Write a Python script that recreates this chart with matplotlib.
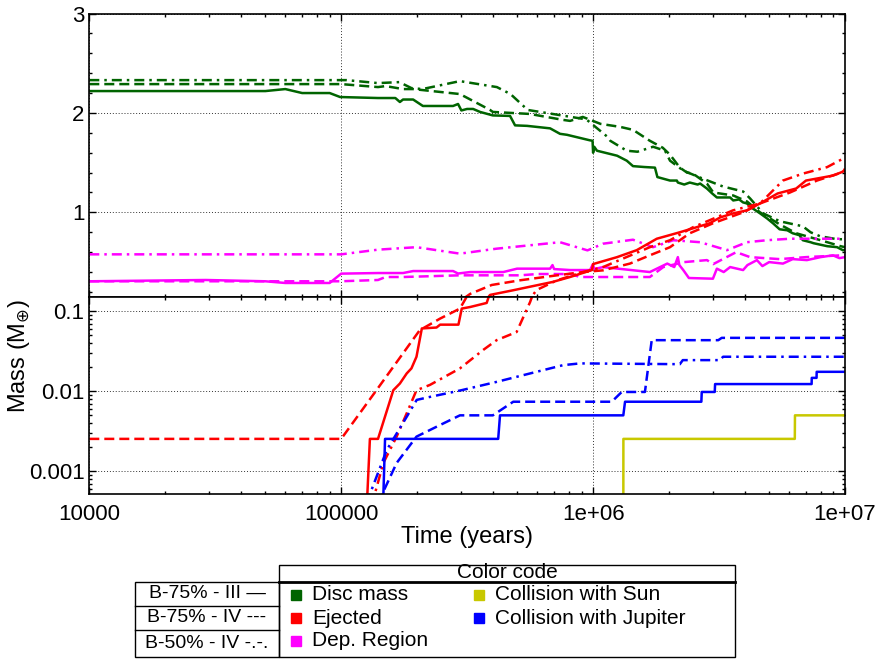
"""Masa del disco, eyectados y colisiones vs tiempo (panel lineal + panel log)."""

import matplotlib
matplotlib.use("Agg")
import matplotlib.pyplot as plt
from matplotlib.lines import Line2D
from matplotlib.patches import Rectangle
from matplotlib.ticker import FixedLocator, FixedFormatter, LogLocator, MultipleLocator, NullFormatter

plt.rcParams["font.family"] = ["Liberation Sans", "DejaVu Sans"]
plt.rcParams["mathtext.fontset"] = "dejavusans"

W, H = 884, 659

# ── Datos (tiempo en años, masa en M_tierra) ───────────────────────────────────

# Disc mass
DISC_III_T = [1e4, 5.0e4, 6.0e4, 7.0e4, 9.0e4, 9.9e4, 1.4e5, 1.64e5, 1.71e5, 1.76e5, 1.93e5,
              2.11e5, 2.78e5, 2.91e5, 3.0e5, 3.16e5, 3.34e5, 3.56e5, 4.0e5, 4.68e5, 4.9e5,
              5.47e5, 6.75e5, 7.39e5, 7.88e5, 9.7e5, 9.95e5, 1.0e6, 1.01e6, 1.036e6, 1.245e6,
              1.36e6, 1.44e6, 1.6e6, 1.76e6, 1.80e6, 2.02e6, 2.15e6, 2.17e6, 2.3e6, 2.42e6,
              2.6e6, 2.66e6, 2.83e6, 2.97e6, 3.1e6, 3.5e6, 3.6e6, 3.8e6, 3.94e6, 4.08e6,
              4.3e6, 4.6e6, 4.9e6, 5.18e6, 5.5e6, 5.9e6, 6.2e6, 6.6e6, 6.8e6, 7.3e6, 7.5e6,
              8.5e6, 9.3e6, 9.8e6, 1e7]
DISC_III_M = [2.22, 2.22, 2.24, 2.20, 2.20, 2.16, 2.15, 2.15, 2.11, 2.135, 2.135,
              2.07, 2.07, 2.09, 2.025, 2.04, 2.04, 2.01, 1.975, 1.97, 1.875,
              1.87, 1.845, 1.79, 1.78, 1.725, 1.72, 1.60, 1.66, 1.62, 1.57,
              1.52, 1.465, 1.456, 1.45, 1.355, 1.32, 1.32, 1.30, 1.28, 1.30,
              1.28, 1.29, 1.24, 1.19, 1.15, 1.15, 1.12, 1.13, 1.10, 1.09,
              1.04, 0.99, 0.94, 0.89, 0.83, 0.82, 0.79, 0.77, 0.72, 0.70, 0.69,
              0.66, 0.65, 0.62, 0.62]

DISC_IV_T = [1e4, 1.0e5, 1.4e5, 1.5e5, 1.76e5, 1.93e5, 2.96e5, 3.9e5, 4.0e5, 5.6e5, 7.6e5,
             8.1e5, 9.1e5, 1.07e6, 1.28e6, 1.44e6, 1.68e6, 1.89e6, 2.02e6, 2.21e6, 2.36e6,
             2.49e6, 2.83e6, 3.0e6, 3.6e6, 4.08e6, 4.6e6, 5.5e6, 6.4e6, 8.0e6, 9.6e6, 1e7]
DISC_IV_M = [2.29, 2.29, 2.26, 2.27, 2.24, 2.24, 2.19, 2.03, 2.01, 1.99, 1.93,
             1.92, 1.96, 1.89, 1.86, 1.83, 1.72, 1.65, 1.58, 1.45, 1.40,
             1.39, 1.29, 1.20, 1.17, 1.11, 1.00, 0.88, 0.79, 0.72, 0.66, 0.65]

DISC_50_T = [1e4, 1.05e5, 1.4e5, 1.7e5, 1.9e5, 2.1e5, 2.96e5, 4.15e5, 4.7e5, 5.5e5, 6.9e5,
             9.4e5, 1.14e6, 1.17e6, 1.36e6, 1.5e6, 1.73e6, 1.93e6, 2.02e6, 2.28e6, 2.66e6,
             3.28e6, 3.94e6, 4.2e6, 4.73e6, 5.52e6, 6.8e6, 7.3e6, 7.96e6, 9.3e6, 1e7]
DISC_50_M = [2.33, 2.33, 2.30, 2.31, 2.25, 2.24, 2.32, 2.26, 2.19, 2.03, 1.99,
             1.935, 1.76, 1.72, 1.62, 1.61, 1.66, 1.62, 1.52, 1.42, 1.35,
             1.26, 1.21, 1.14, 0.99, 0.91, 0.86, 0.80, 0.76, 0.73, 0.73]

# Ejected
EJ_III_T = [1.24e5, 1.30e5, 1.40e5, 1.61e5, 1.71e5, 1.82e5, 1.9e5, 1.99e5, 2.09e5, 2.39e5,
            2.47e5, 2.92e5, 3.01e5, 3.25e5, 3.78e5, 3.9e5, 4.8e5, 6.9e5, 8.1e5, 9.9e5,
            1.0e6, 1.245e6, 1.49e6, 1.79e6, 2.21e6, 2.9e6, 3.2e6, 3.6e6, 4.08e6, 4.6e6,
            5.4e6, 6.4e6, 7.0e6, 8.96e6, 9.6e6, 1e7]
EJ_III_M = [1e-4, 0.00254, 0.00254, 0.0103, 0.0125, 0.0167, 0.0193, 0.027, 0.061, 0.0626,
            0.068, 0.068, 0.108, 0.113, 0.127, 0.17, 0.216, 0.30, 0.35, 0.42,
            0.48, 0.55, 0.62, 0.735, 0.80, 0.89, 0.95, 0.99, 1.02, 1.09,
            1.19, 1.24, 1.32, 1.37, 1.40, 1.42]

EJ_IV_T = [1e4, 1.0e5, 1.38e5, 2.05e5, 2.47e5, 2.96e5, 3.25e5, 3.96e5, 5.13e5, 7.19e5,
           9.12e5, 1.095e6, 1.4e6, 1.68e6, 2.02e6, 2.42e6, 2.99e6, 3.94e6, 4.6e6, 6.05e6,
           7.74e6, 9.82e6, 1e7]
EJ_IV_M = [0.00254, 0.00254, 0.0103, 0.058, 0.081, 0.108, 0.18, 0.27, 0.317, 0.367,
           0.40, 0.417, 0.485, 0.568, 0.65, 0.79, 0.89, 1.0, 1.09, 1.20,
           1.32, 1.405, 1.44]

EJ_50_T = [1.25e5, 1.47e5, 1.66e5, 1.82e5, 1.99e5, 2.25e5, 2.96e5, 3.67e5, 4.14e5, 4.97e5,
           5.62e5, 5.97e5, 7.19e5, 9.12e5, 1.095e6, 1.68e6, 2.02e6, 2.49e6, 3.59e6, 4.6e6,
           5.67e6, 6.81e6, 8.49e6, 9.82e6, 1e7]
EJ_50_M = [2e-4, 0.00127, 0.00271, 0.0053, 0.0103, 0.012, 0.0193, 0.033, 0.0435, 0.055,
           0.13, 0.22, 0.317, 0.40, 0.45, 0.65, 0.72, 0.85, 1.02, 1.09,
           1.32, 1.39, 1.455, 1.54, 1.55]

# Dep. Region
DEP_III_T = [1e4, 2.9e4, 5.0e4, 6.0e4, 9.0e4, 1.0e5, 1.4e5, 1.76e5, 1.93e5, 2.78e5, 2.91e5,
             3.25e5, 4.4e5, 4.99e5, 6.75e5, 6.9e5, 7.0e5, 8.1e5, 9.72e5, 9.99e5, 1.01e6,
             1.095e6, 1.68e6, 1.97e6, 2.1e6, 2.17e6, 2.2e6, 2.28e6, 2.4e6, 2.99e6, 3.1e6,
             3.3e6, 3.5e6, 3.94e6, 4.1e6, 4.47e6, 4.7e6, 5.0e6, 5.67e6, 6.2e6, 7.06e6,
             8.0e6, 8.96e6, 9.5e6, 1e7]
DEP_III_M = [0.307, 0.32, 0.307, 0.29, 0.29, 0.384, 0.39, 0.39, 0.41, 0.41, 0.385,
             0.40, 0.40, 0.434, 0.434, 0.47, 0.43, 0.42, 0.42, 0.48, 0.43,
             0.45, 0.40, 0.485, 0.45, 0.55, 0.47, 0.42, 0.34, 0.333, 0.434,
             0.40, 0.45, 0.42, 0.47, 0.52, 0.46, 0.50, 0.485, 0.53, 0.52,
             0.55, 0.568, 0.54, 0.55]

DEP_IV_T = [1e4, 9.9e4, 1.4e5, 1.5e5, 1.76e5, 2.96e5, 5.13e5, 6.0e5, 8.1e5, 8.9e5, 1.68e6,
            1.9e6, 2.3e6, 2.83e6, 3.0e6, 3.7e6, 4.2e6, 5.5e6, 7e6, 1e7]
DEP_IV_M = [0.307, 0.307, 0.32, 0.35, 0.35, 0.367, 0.367, 0.38, 0.38, 0.35, 0.35,
            0.45, 0.50, 0.52, 0.48, 0.60, 0.55, 0.53, 0.55, 0.57]

DEP_50_T = [1e4, 1.0e5, 1.4e5, 1.99e5, 2.96e5, 4.14e5, 7.39e5, 9.5e5, 1.095e6, 1.44e6,
            1.73e6, 2.08e6, 2.66e6, 3.4e6, 4.08e6, 4.9e6, 6.05e6, 1e7]
DEP_50_M = [0.578, 0.578, 0.625, 0.65, 0.585, 0.635, 0.70, 0.618, 0.685, 0.725,
            0.65, 0.72, 0.70, 0.62, 0.70, 0.72, 0.735, 0.735]

# Collision with Jupiter
JUP_III_T = [1.448e5, 1.493e5, 4.2e5, 4.27e5, 1.318e6, 1.339e6, 2.69e6, 2.70e6, 3.04e6,
             3.05e6, 7.37e6, 7.38e6, 7.71e6, 7.72e6, 1e7]
JUP_III_M = [1e-4, 0.00254, 0.00254, 0.0050, 0.0050, 0.0074, 0.0074, 0.0098, 0.0098,
             0.0123, 0.0123, 0.0147, 0.0147, 0.0175, 0.0175]

JUP_IV_T = [1.40e5, 1.66e5, 1.99e5, 2.39e5, 2.96e5, 4.0e5, 4.82e5, 1.186e6, 1.299e6,
            1.606e6, 1.709e6, 3.14e6, 3.24e6, 1e7]
JUP_IV_M = [4e-4, 0.00127, 0.00271, 0.0036, 0.0050, 0.0050, 0.0074, 0.0074, 0.0098,
            0.0098, 0.0435, 0.0435, 0.0465, 0.0465]

JUP_50_T = [1.26e5, 1.516e5, 1.82e5, 1.994e5, 2.25e5, 3.0e5, 4.14e5, 5.62e5, 7.6e5,
            8.87e5, 2.21e6, 2.27e6, 3.19e6, 3.28e6, 1e7]
JUP_50_M = [4e-4, 0.00184, 0.0048, 0.0078, 0.0085, 0.0103, 0.0131, 0.0167, 0.0212,
            0.0223, 0.0218, 0.0245, 0.0245, 0.027, 0.027]

# Collision with Sun
SUN_III_T = [1.318e6, 1.319e6, 6.32e6, 6.33e6, 1e7]
SUN_III_M = [1e-4, 0.00254, 0.00254, 0.0050, 0.0050]

GREEN, RED, MAGENTA, BLUE, YELLOW = "#006400", "#ff0000", "#ff00ff", "#0000ff", "#c8c800"
STYLES = {
    "III": "-",
    "IV": (0, (4, 2)),
    "50": (0, (4, 2, 1, 2)),
}

SERIES = [
    (DISC_III_T, DISC_III_M, GREEN, "III"),
    (DISC_IV_T, DISC_IV_M, GREEN, "IV"),
    (DISC_50_T, DISC_50_M, GREEN, "50"),
    (DEP_III_T, DEP_III_M, MAGENTA, "III"),
    (DEP_IV_T, DEP_IV_M, MAGENTA, "IV"),
    (DEP_50_T, DEP_50_M, MAGENTA, "50"),
    (EJ_III_T, EJ_III_M, RED, "III"),
    (EJ_IV_T, EJ_IV_M, RED, "IV"),
    (EJ_50_T, EJ_50_M, RED, "50"),
    (JUP_III_T, JUP_III_M, BLUE, "III"),
    (JUP_IV_T, JUP_IV_M, BLUE, "IV"),
    (JUP_50_T, JUP_50_M, BLUE, "50"),
    (SUN_III_T, SUN_III_M, YELLOW, "III"),
]

SPLIT = 0.152          # masa donde se juntan los dos paneles
FS_TICK = 16
FS_LABEL = 17
FS_LEG = 15
FS_RUNS = 14


# ── Helpers ────────────────────────────────────────────────────────────────────

def fx(px: float) -> float:
    return px / W


def fy(py: float) -> float:
    return 1 - py / H


def _style_axis(ax):
    ax.set_xscale("log")
    ax.set_xlim(1e4, 1e7)
    ax.xaxis.set_major_locator(FixedLocator([1e4, 1e5, 1e6, 1e7]))
    ax.xaxis.set_minor_locator(LogLocator(base=10, subs=range(2, 10)))
    ax.tick_params(which="both", direction="in", top=True, right=True,
                   labelsize=FS_TICK, width=1.0, color="black")
    ax.tick_params(which="major", length=5)
    ax.tick_params(which="minor", length=2.5)
    ax.grid(True, which="major", color="#333333", lw=0.7, ls=(0, (1, 2)))
    for sp in ax.spines.values():
        sp.set_linewidth(1.2)


def _draw_series(ax):
    for t, m, color, run in SERIES:
        ax.plot(t, m, color=color, ls=STYLES[run], lw=1.8)


# ── Figura ─────────────────────────────────────────────────────────────────────

fig = plt.figure(figsize=(W / 100, H / 100), dpi=100)

left, right = 89.3, 845
ax_top = fig.add_axes([fx(left), fy(296.7), fx(right - left), (296.7 - 13.5) / H])
ax_bot = fig.add_axes([fx(left), fy(494), fx(right - left), (494 - 296.7) / H], sharex=ax_top)

for ax in (ax_top, ax_bot):
    _draw_series(ax)
    _style_axis(ax)

ax_top.set_ylim(SPLIT, 3.0)
ax_top.yaxis.set_major_locator(FixedLocator([1, 2, 3]))
ax_top.yaxis.set_minor_locator(MultipleLocator(0.2))
ax_top.tick_params(labelbottom=False)

ax_bot.set_yscale("log")
ax_bot.set_ylim(0.00052, SPLIT)
ax_bot.yaxis.set_major_locator(FixedLocator([0.001, 0.01, 0.1]))
ax_bot.yaxis.set_major_formatter(FixedFormatter(["0.001", "0.01", "0.1"]))
ax_bot.yaxis.set_minor_locator(LogLocator(base=10, subs=range(2, 10)))
ax_bot.yaxis.set_minor_formatter(NullFormatter())
ax_bot.xaxis.set_major_formatter(FixedFormatter(["10000", "100000", "1e+06", "1e+07"]))
ax_bot.xaxis.set_minor_formatter(NullFormatter())
ax_bot.tick_params(axis="x", pad=7)

fig.text(fx(467), fy(537), "Time (years)", ha="center", va="center", fontsize=FS_LABEL)
fig.text(fx(19), fy(356), "Mass (M$_{\\oplus}$)", ha="center", va="center",
         rotation=90, fontsize=FS_LABEL)

# ── Tablas de leyenda ──────────────────────────────────────────────────────────

def _box(x0, y0, x1, y1, lw=1.0):
    fig.add_artist(Rectangle((fx(x0), fy(y1)), fx(x1 - x0), (y1 - y0) / H,
                             fill=False, lw=lw, ec="black", transform=fig.transFigure))


def _hline(x0, x1, y, lw=1.0):
    fig.add_artist(Line2D([fx(x0), fx(x1)], [fy(y), fy(y)], lw=lw, color="black",
                          transform=fig.transFigure))


_box(135, 582, 279, 657)
_hline(135, 279, 606)
_hline(135, 279, 630)
for label, y in [("B-75% - III —", 594), ("B-75% - IV ---", 618), ("B-50% - IV -.-.", 643)]:
    fig.text(fx(207), fy(y), label, ha="center", va="center", fontsize=FS_RUNS)

_box(279, 565, 735, 657)
_hline(279, 735, 582, lw=2.0)
fig.text(fx(507), fy(573), "Color code", ha="center", va="center", fontsize=FS_LEG)

LEGEND = [
    ("Disc mass", GREEN, 296, 595),
    ("Ejected", RED, 296, 618),
    ("Dep. Region", MAGENTA, 296, 641),
    ("Collision with Sun", YELLOW, 479, 595),
    ("Collision with Jupiter", BLUE, 479, 618),
]
for label, color, x, y in LEGEND:
    fig.add_artist(Rectangle((fx(x - 5), fy(y + 5)), 10 / W, 10 / H, color=color,
                             transform=fig.transFigure))
    fig.text(fx(x + 16), fy(y), label, ha="left", va="center", fontsize=FS_LEG)

fig.savefig("out.png", dpi=100)
